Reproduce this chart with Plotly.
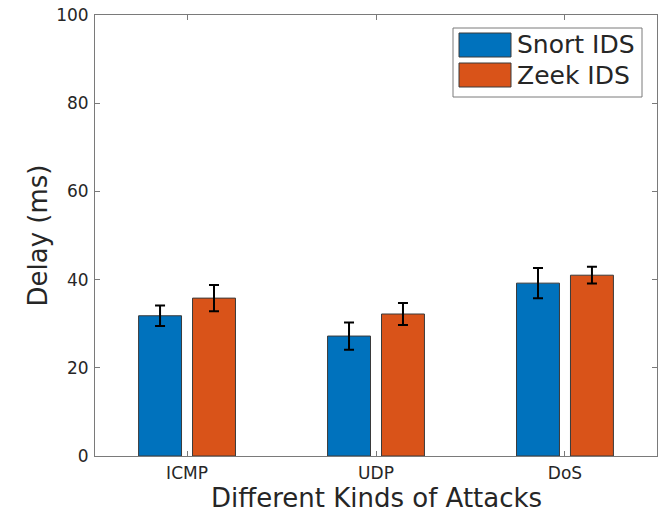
import plotly.graph_objects as go

categories = ["ICMP", "UDP", "DoS"]
series_names = ["Snort IDS", "Zeek IDS"]
snort_delay = [31.8, 27.2, 39.2]
snort_err = [2.3, 3.1, 3.45]
zeek_delay = [35.8, 32.2, 41.0]
zeek_err = [3.0, 2.5, 1.9]
y_ticks = [0, 20, 40, 60, 80, 100]

colors = ["#0072BD", "#D95319"]
values = [snort_delay, zeek_delay]
errors = [snort_err, zeek_err]

FONT = "DejaVu Sans"
TXT = "#262626"
AX = "#7a7a7a"

fig = go.Figure()
for name, vals, errs, col in zip(series_names, values, errors, colors):
    fig.add_trace(go.Bar(
        x=categories, y=vals, name=name,
        marker=dict(color=col, line=dict(color="#3a3a3a", width=1)),
        error_y=dict(type="data", array=errs, visible=True,
                     color="black", thickness=2, width=5),
        showlegend=False,
    ))

# plot area in pixels: left 95, right 657, top 15, bottom 456
L, R, T, B = 95, 657, 15, 456
def px2paper(x, y):
    return (x - L) / (R - L), (B - y) / (B - T)

# custom legend (large patches like MATLAB)
x0, y0 = px2paper(453, 28)
x1, y1 = px2paper(642, 97)
fig.add_shape(type="rect", xref="paper", yref="paper", x0=x0, y0=y1, x1=x1, y1=y0,
              line=dict(color=AX, width=1), fillcolor="white", layer="above")
row_centers = [45, 75]
for name, col, yc in zip(series_names, colors, row_centers):
    px0, py0 = px2paper(459, yc - 12)
    px1, py1 = px2paper(511, yc + 12)
    fig.add_shape(type="rect", xref="paper", yref="paper", x0=px0, y0=py1, x1=px1, y1=py0,
                  line=dict(color="#3a3a3a", width=1), fillcolor=col, layer="above")
    tx, ty = px2paper(515, yc)
    fig.add_annotation(x=tx, y=ty, xref="paper", yref="paper", text=name,
                       showarrow=False, xanchor="left", yanchor="middle",
                       font=dict(family=FONT, size=25, color=TXT))

# axis titles as annotations
xt_x, xt_y = px2paper(376, 498)
fig.add_annotation(x=0.5, y=xt_y, xref="paper", yref="paper",
                   text="Different Kinds of Attacks", showarrow=False,
                   xanchor="center", yanchor="middle",
                   font=dict(family=FONT, size=26, color=TXT))
yt_x, yt_y = px2paper(37, 235)
fig.add_annotation(x=yt_x, y=0.5, xref="paper", yref="paper",
                   text="Delay (ms)", showarrow=False, textangle=-90,
                   xanchor="center", yanchor="middle",
                   font=dict(family=FONT, size=26, color=TXT))

fig.update_layout(
    width=664, height=513,
    margin=dict(l=L, r=664 - R, t=T, b=513 - B, autoexpand=False),
    paper_bgcolor="white", plot_bgcolor="white",
    barmode="group", bargap=0.429, bargroupgap=0.204,
    font=dict(family=FONT, color=TXT),
)
fig.update_xaxes(
    type="category", range=[-0.487, 2.487], automargin=False,
    showline=True, linecolor=AX, linewidth=1, mirror="ticks",
    ticks="inside", ticklen=5, tickcolor=AX, tickwidth=1,
    tickfont=dict(family=FONT, size=17, color=TXT), ticklabelstandoff=2,
    showgrid=False, zeroline=False,
)
fig.update_yaxes(
    range=[0, 100], tickvals=y_ticks, automargin=False,
    showline=True, linecolor=AX, linewidth=1, mirror="ticks",
    ticks="inside", ticklen=5, tickcolor=AX, tickwidth=1,
    tickfont=dict(family=FONT, size=17, color=TXT), ticklabelstandoff=2,
    showgrid=False, zeroline=False,
)

fig.write_html("out.html", config={"displayModeBar": False},
               post_script="document.body.style.margin='0px';document.body.style.overflow='hidden';")
